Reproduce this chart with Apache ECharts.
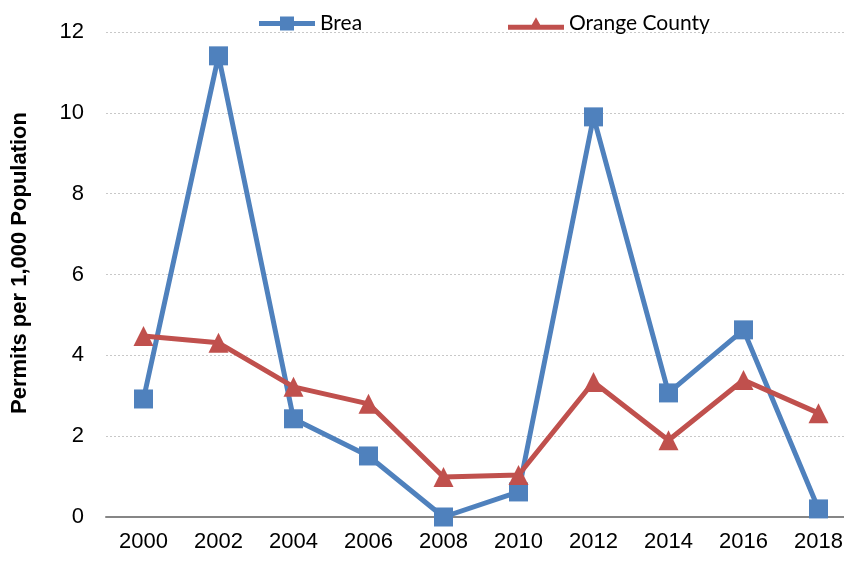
<!DOCTYPE html>
<html>
<head>
<meta charset="utf-8">
<script src="https://cdn.jsdelivr.net/npm/echarts@6/dist/echarts.min.js"></script>
<style>
  html, body { margin: 0; padding: 0; background: #fff; }
  #main { width: 844px; height: 563px; }
</style>
</head>
<body>
<div id="main"></div>
<script>
// data
var years = ['2000', '2002', '2004', '2006', '2008', '2010', '2012', '2014', '2016', '2018'];
var brea = [2.92, 11.41, 2.43, 1.51, 0.0, 0.62, 9.9, 3.07, 4.63, 0.2];
var orangeCounty = [4.48, 4.31, 3.22, 2.8, 0.99, 1.04, 3.34, 1.9, 3.39, 2.57];

var axisFont = '"Liberation Sans Narrow", "Arial Narrow", "Liberation Sans", sans-serif';
var legendFont = 'Lato, "Open Sans", sans-serif';

// legend icons: thick line with the marker on it (Excel style)
var squareIcon = 'path://M0,4.5H21V0H35V4.5H56V9.5H35V14H21V9.5H0Z';
var triangleIcon = 'path://M0,7.5H23.8L28,0L32.2,7.5H56V12.5H0Z';

var chart = echarts.init(document.getElementById('main'));

var legendBase = {
  top: 8, itemWidth: 56, itemHeight: 14, itemGap: 4,
  textStyle: { fontFamily: legendFont, fontSize: 21, color: '#000' }
};

chart.setOption({
  animation: false,
  grid: { left: 106, right: -12, top: 32, bottom: 46, outerBoundsMode: 'none' },
  legend: [
    Object.assign({ data: [{ name: 'Brea', icon: squareIcon }], left: 254 }, legendBase),
    Object.assign({ data: [{ name: 'Orange County', icon: triangleIcon }], left: 503, itemHeight: 13 }, legendBase)
  ],
  graphic: [{
    type: 'text',
    x: 20, y: 263,
    rotation: Math.PI / 2,
    style: {
      text: 'Permits per 1,000 Population',
      font: 'bold 22px "Liberation Sans", Arial, sans-serif',
      fill: '#000',
      align: 'center',
      verticalAlign: 'middle'
    }
  }],
  xAxis: {
    type: 'category',
    data: years,
    boundaryGap: true,
    axisLine: { lineStyle: { color: '#868686', width: 2 } },
    axisTick: { show: false },
    axisLabel: { color: '#000', fontFamily: axisFont, fontSize: 22, margin: 14 }
  },
  yAxis: {
    type: 'value',
    min: 0, max: 12, interval: 2,
    axisLine: { show: false },
    axisTick: { show: false },
    axisLabel: { color: '#000', fontFamily: axisFont, fontSize: 22, margin: 22 },
    splitLine: { lineStyle: { color: '#c8c8c8', type: [2, 2], width: 1 } }
  },
  series: [
    {
      name: 'Brea', type: 'line', data: brea,
      symbol: 'rect', symbolSize: 19,
      itemStyle: { color: '#4F81BD' },
      lineStyle: { color: '#4F81BD', width: 5 }
    },
    {
      name: 'Orange County', type: 'line', data: orangeCounty,
      symbol: 'triangle', symbolSize: 20,
      itemStyle: { color: '#C0504D' },
      lineStyle: { color: '#C0504D', width: 5 }
    }
  ]
});
</script>
</body>
</html>
